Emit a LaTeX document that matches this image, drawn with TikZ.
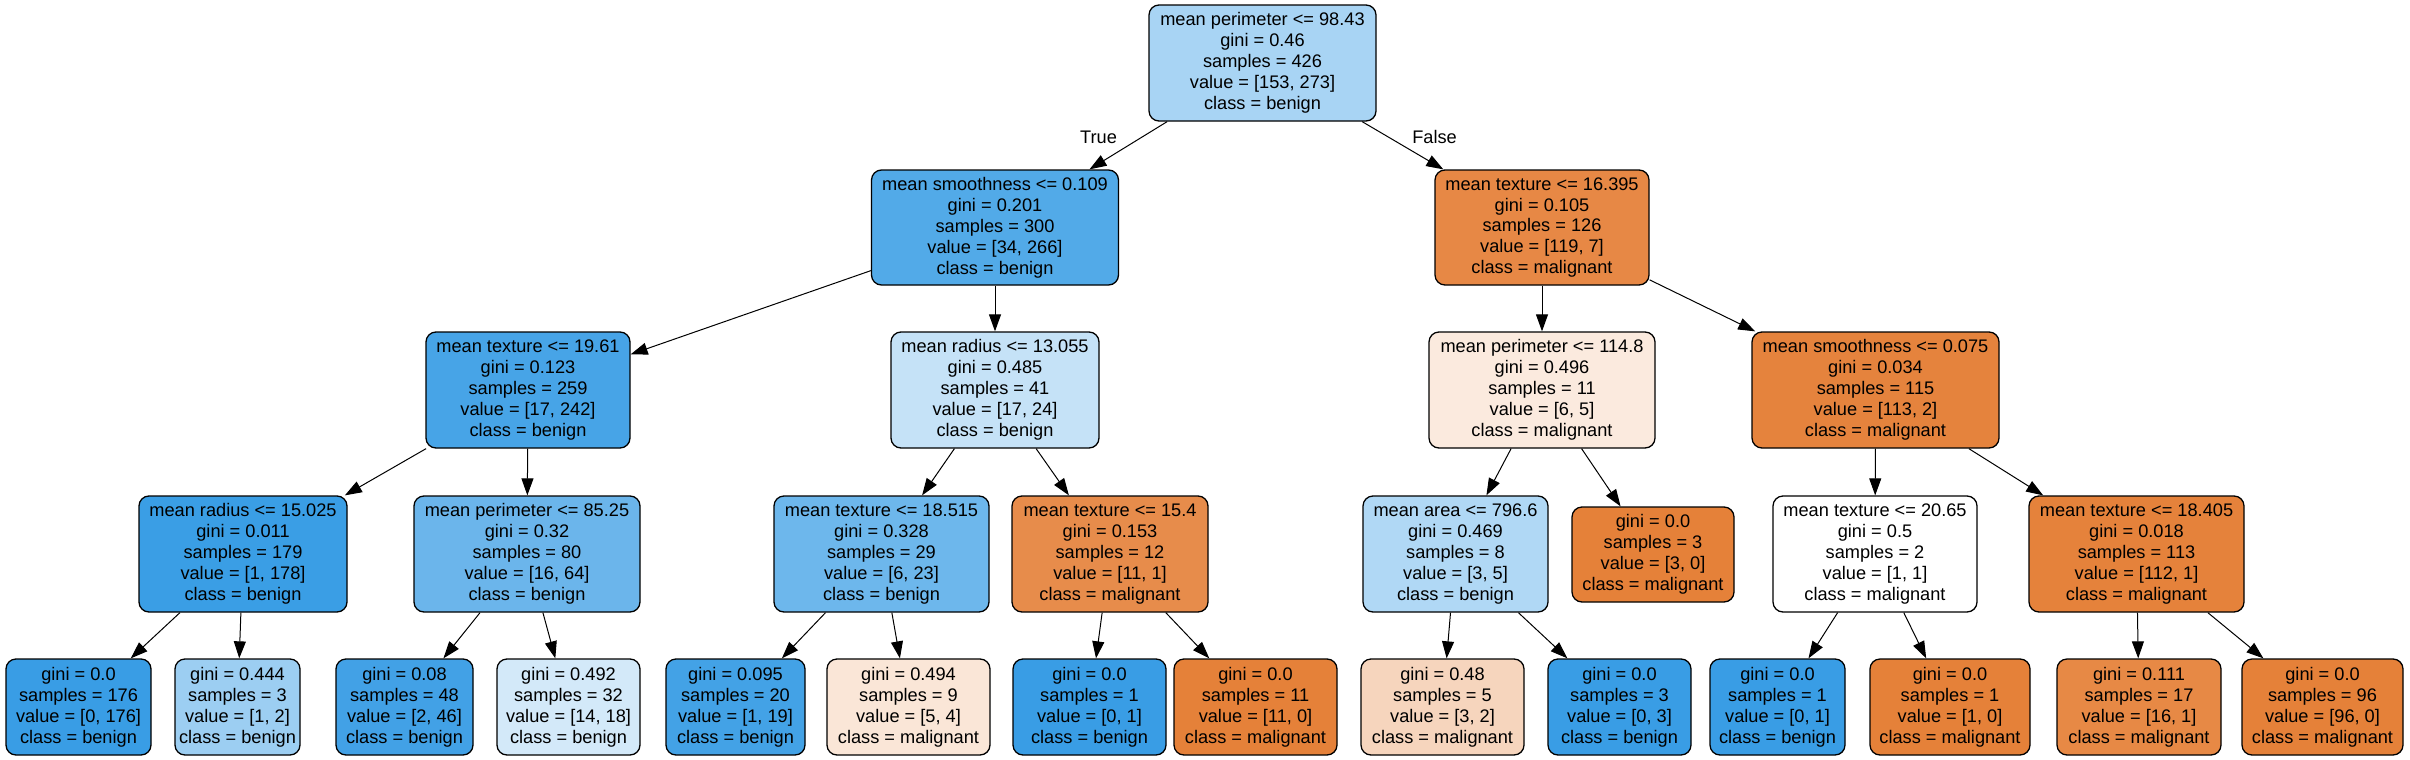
\documentclass[tikz,border=0pt]{standalone}
\usepackage{fontspec}
\setmainfont{Liberation Sans}
\usetikzlibrary{arrows.meta}
\definecolor{cB}{RGB}{57,157,229}
\definecolor{cM}{RGB}{229,129,57}
\tikzset{
  tn/.style 2 args={draw=black, line width=0.65pt, rounded corners=5pt, align=center,
    inner sep=0pt, minimum width=#1*0.5pt, minimum height=#2*0.5pt,
    font=\fontsize{9.1}{10.45}\selectfont},
  edge/.style={draw=black, line width=0.5pt, -{Triangle[length=8.5pt,width=6pt]}},
  elab/.style={font=\fontsize{9.1}{10.45}\selectfont, inner sep=0pt},
}
\begin{document}
\begin{tikzpicture}[x=0.5pt, y=-0.5pt]
\useasboundingbox (0,0) rectangle (2410,760);
% level 0
\node[tn={227}{116}, fill=cB!43.96!white] (n0) at (1262.5,63) {mean perimeter <= 98.43\\gini = 0.46\\samples = 426\\value = [153, 273]\\class = benign};
% level 1
\node[tn={247}{115}, fill=cB!87.22!white] (n1) at (995,227.5) {mean smoothness <= 0.109\\gini = 0.201\\samples = 300\\value = [34, 266]\\class = benign};
\node[tn={214}{115}, fill=cM!94.12!white] (n2) at (1542,227.5) {mean texture <= 16.395\\gini = 0.105\\samples = 126\\value = [119, 7]\\class = malignant};
% level 2
\node[tn={204}{116}, fill=cB!92.98!white] (n3) at (528,390) {mean texture <= 19.61\\gini = 0.123\\samples = 259\\value = [17, 242]\\class = benign};
\node[tn={208}{116}, fill=cB!29.17!white] (n4) at (995,390) {mean radius <= 13.055\\gini = 0.485\\samples = 41\\value = [17, 24]\\class = benign};
\node[tn={226}{116}, fill=cM!16.67!white] (n5) at (1542,390) {mean perimeter <= 114.8\\gini = 0.496\\samples = 11\\value = [6, 5]\\class = malignant};
\node[tn={247}{116}, fill=cM!98.23!white] (n6) at (1875.5,390) {mean smoothness <= 0.075\\gini = 0.034\\samples = 115\\value = [113, 2]\\class = malignant};
% level 3
\node[tn={208}{116}, fill=cB!99.44!white] (n7) at (243,554) {mean radius <= 15.025\\gini = 0.011\\samples = 179\\value = [1, 178]\\class = benign};
\node[tn={226}{116}, fill=cB!75!white] (n8) at (527,554) {mean perimeter <= 85.25\\gini = 0.32\\samples = 80\\value = [16, 64]\\class = benign};
\node[tn={215}{116}, fill=cB!73.91!white] (n9) at (881.5,554) {mean texture <= 18.515\\gini = 0.328\\samples = 29\\value = [6, 23]\\class = benign};
\node[tn={196}{116}, fill=cM!90.91!white] (n10) at (1110,554) {mean texture <= 15.4\\gini = 0.153\\samples = 12\\value = [11, 1]\\class = malignant};
\node[tn={185}{116}, fill=cB!40!white] (n11) at (1455.5,554) {mean area <= 796.6\\gini = 0.469\\samples = 8\\value = [3, 5]\\class = benign};
\node[tn={162}{95}, fill=cM] (n12) at (1653,554.5) {gini = 0.0\\samples = 3\\value = [3, 0]\\class = malignant};
\node[tn={204}{116}, fill=white] (n13) at (1875,554) {mean texture <= 20.65\\gini = 0.5\\samples = 2\\value = [1, 1]\\class = malignant};
\node[tn={215}{116}, fill=cM!99.11!white] (n14) at (2136.5,554) {mean texture <= 18.405\\gini = 0.018\\samples = 113\\value = [112, 1]\\class = malignant};
% level 4
\node[tn={145}{96}, fill=cB] (l1) at (78.5,707) {gini = 0.0\\samples = 176\\value = [0, 176]\\class = benign};
\node[tn={125}{96}, fill=cB!50!white] (l2) at (237.5,707) {gini = 0.444\\samples = 3\\value = [1, 2]\\class = benign};
\node[tn={137}{96}, fill=cB!95.65!white] (l3) at (404.5,707) {gini = 0.08\\samples = 48\\value = [2, 46]\\class = benign};
\node[tn={143}{96}, fill=cB!22.22!white] (l4) at (568.5,707) {gini = 0.492\\samples = 32\\value = [14, 18]\\class = benign};
\node[tn={139}{96}, fill=cB!94.74!white] (l5) at (735.5,707) {gini = 0.095\\samples = 20\\value = [1, 19]\\class = benign};
\node[tn={163}{96}, fill=cM!20!white] (l6) at (908.5,707) {gini = 0.494\\samples = 9\\value = [5, 4]\\class = malignant};
\node[tn={153}{96}, fill=cB] (l7) at (1089.5,707) {gini = 0.0\\samples = 1\\value = [0, 1]\\class = benign};
\node[tn={163}{96}, fill=cM] (l8) at (1255.5,707) {gini = 0.0\\samples = 11\\value = [11, 0]\\class = malignant};
\node[tn={163}{96}, fill=cM!33.33!white] (l9) at (1442.5,707) {gini = 0.48\\samples = 5\\value = [3, 2]\\class = malignant};
\node[tn={143}{96}, fill=cB] (l10) at (1619.5,707) {gini = 0.0\\samples = 3\\value = [0, 3]\\class = benign};
\node[tn={135}{96}, fill=cB] (l11) at (1777.5,707) {gini = 0.0\\samples = 1\\value = [0, 1]\\class = benign};
\node[tn={160}{96}, fill=cM] (l12) at (1950,707) {gini = 0.0\\samples = 1\\value = [1, 0]\\class = malignant};
\node[tn={164}{96}, fill=cM!93.75!white] (l13) at (2139,707) {gini = 0.111\\samples = 17\\value = [16, 1]\\class = malignant};
\node[tn={161}{96}, fill=cM] (l14) at (2322.5,707) {gini = 0.0\\samples = 96\\value = [96, 0]\\class = malignant};
% edges
\draw[edge] (n0) -- (n1);
\draw[edge] (n0) -- (n2);
\draw[edge] (n1) -- (n3);
\draw[edge] (n1) -- (n4);
\draw[edge] (n2) -- (n5);
\draw[edge] (n2) -- (n6);
\draw[edge] (n3) -- (n7);
\draw[edge] (n3) -- (n8);
\draw[edge] (n4) -- (n9);
\draw[edge] (n4) -- (n10);
\draw[edge] (n5) -- (n11);
\draw[edge] (n5) -- (n12);
\draw[edge] (n6) -- (n13);
\draw[edge] (n6) -- (n14);
\draw[edge] (n7) -- (l1);
\draw[edge] (n7) -- (l2);
\draw[edge] (n8) -- (l3);
\draw[edge] (n8) -- (l4);
\draw[edge] (n9) -- (l5);
\draw[edge] (n9) -- (l6);
\draw[edge] (n10) -- (l7);
\draw[edge] (n10) -- (l8);
\draw[edge] (n11) -- (l9);
\draw[edge] (n11) -- (l10);
\draw[edge] (n13) -- (l11);
\draw[edge] (n13) -- (l12);
\draw[edge] (n14) -- (l13);
\draw[edge] (n14) -- (l14);
% edge labels
\node[elab] (tlab) at (1098.5,137) {True};
\node[elab] (flab) at (1434.5,137) {False};
\end{tikzpicture}
\end{document}
